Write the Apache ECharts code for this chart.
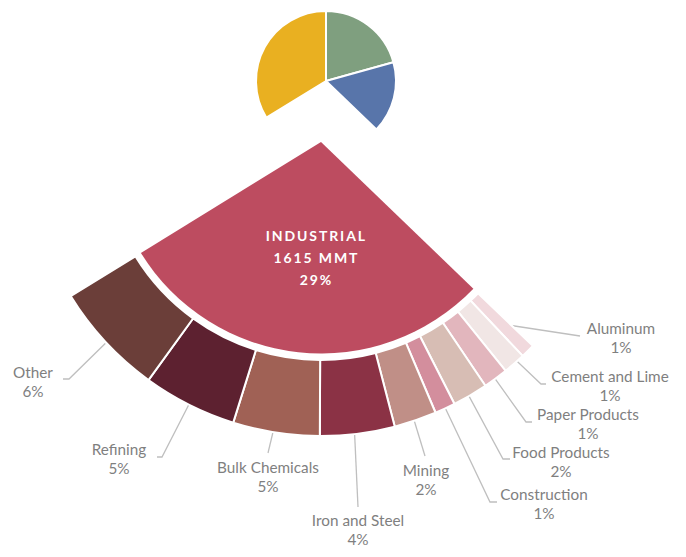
<!DOCTYPE html>
<html>
<head>
<meta charset="utf-8">
<script src="https://cdn.jsdelivr.net/npm/echarts@6/dist/echarts.min.js"></script>
<style>
  html, body { margin: 0; padding: 0; background: #ffffff; }
  #chart { width: 686px; height: 557px; }
  #chart text[fill="#fff"] { letter-spacing: 1.9px; }
</style>
</head>
<body>
<div id="chart"></div>
<script>
// End-use sectors, million metric tons of CO2, clockwise from 12 o'clock
const sectorNames = ['Residential', 'Commercial', 'Industrial', 'Transportation'];
const sectorMMT = [1150, 920, 1615, 1880];

// Breakdown of the industrial sector, million metric tons of CO2
const subsectorNames = ['Other', 'Refining', 'Bulk Chemicals', 'Iron and Steel', 'Mining',
  'Construction', 'Food Products', 'Paper Products', 'Cement and Lime', 'Aluminum'];
const subsectorMMT = [347, 287, 265, 228, 130, 63, 108, 76, 68, 43];

const sectorColors = ['#7f9f7f', '#5875aa', '#bd4c60', '#e9b021'];
const subsectorColors = ['#6b3e39', '#5d2130', '#a06155', '#8b3245', '#c08f87',
  '#d38e9d', '#d7bdb4', '#e2b6bd', '#f1e6e5', '#f1d9dd'];

// Callout placement per subsector: [text x, text y, bend x, bend y, tip x]
const calloutSpots = [
  [33, 381, 69, 379, 63],
  [119, 458, 162, 457, 157],
  [268, 476, 268, 453, 268],
  [358, 529, 358, 507, 358],
  [426, 479, 425, 456, 425],
  [544, 503, 490, 502, 497],
  [561, 461, 503, 459, 510],
  [588, 423, 526, 422, 532],
  [610, 385, 541, 384, 546],
  [621, 337, 580, 336, 580]
];

const INDUSTRIAL = 2;
const total = sectorMMT.reduce((a, b) => a + b, 0);
const pct = v => Math.round(v / total * 100);

// Exploded industrial wedge and its ring share one centre
const CX = 321, CY = 142;
const WEDGE_R = 211.5;
const RING_R = [218, 294];
const RING_MID = (RING_R[0] + RING_R[1]) / 2;

const hidden = {
  itemStyle: { color: 'transparent', borderWidth: 0 },
  label: { show: false },
  labelLine: { show: false }
};

// Small pie of all sectors; the industrial slice is left empty
const topData = sectorNames.map((name, i) => i === INDUSTRIAL
  ? Object.assign({ name, value: sectorMMT[i] }, hidden)
  : { name, value: sectorMMT[i], itemStyle: { color: sectorColors[i] } });

// Enlarged industrial wedge
const wedgeData = sectorNames.map((name, i) => i === INDUSTRIAL
  ? {
      name, value: sectorMMT[i],
      itemStyle: { color: sectorColors[i] },
      label: {
        show: true,
        position: 'inside',
        formatter: p => p.name.toUpperCase() + '\n' + p.value + ' MMT\n' + pct(p.value) + '%',
        color: '#fff',
        fontFamily: 'Lato, "Open Sans", sans-serif',
        fontWeight: 'bold',
        fontSize: 14,
        lineHeight: 22,
        align: 'center'
      }
    }
  : Object.assign({ name, value: sectorMMT[i] }, hidden));

// Ring of subsectors under the wedge, ordered clockwise (Aluminum first)
const ringData = [];
const ringSub = [];
sectorNames.forEach((name, i) => {
  if (i === INDUSTRIAL) {
    for (let k = subsectorNames.length - 1; k >= 0; k--) {
      ringData.push({ name: subsectorNames[k], value: subsectorMMT[k], itemStyle: { color: subsectorColors[k] } });
      ringSub.push(k);
    }
  } else {
    ringData.push(Object.assign({ name, value: sectorMMT[i] }, hidden));
    ringSub.push(null);
  }
});

// Point halfway across the ring at the middle angle of a subsector
function ringMidPoint(idx) {
  let before = 0;
  for (let j = 0; j < idx; j++) before += ringData[j].value;
  const frac = (before + ringData[idx].value / 2) / total;
  const ang = Math.PI / 2 - frac * Math.PI * 2;
  return [CX + RING_MID * Math.cos(ang), CY - RING_MID * Math.sin(ang)];
}

const chart = echarts.init(document.getElementById('chart'), null, { renderer: 'svg' });
chart.setOption({
  backgroundColor: '#ffffff',
  animation: false,
  series: [
    {
      type: 'pie',
      silent: true,
      center: [326, 81],
      radius: [0, 70],
      startAngle: 90,
      avoidLabelOverlap: false,
      itemStyle: { borderColor: '#ffffff', borderWidth: 2 },
      label: { show: false },
      labelLine: { show: false },
      data: topData
    },
    {
      type: 'pie',
      silent: true,
      center: [CX, CY],
      radius: [0, WEDGE_R],
      startAngle: 90,
      avoidLabelOverlap: false,
      labelLine: { show: false },
      labelLayout: { dx: 7, dy: 7 },
      data: wedgeData
    },
    {
      type: 'pie',
      silent: true,
      center: [CX, CY],
      radius: RING_R,
      startAngle: 90,
      avoidLabelOverlap: false,
      itemStyle: { borderColor: '#ffffff', borderWidth: 2 },
      label: {
        show: true,
        position: 'outside',
        formatter: p => p.name + '\n' + pct(p.value) + '%',
        color: '#7f7f7f',
        fontFamily: 'Lato, "Open Sans", sans-serif',
        fontSize: 15.3,
        lineHeight: 19,
        align: 'center'
      },
      labelLine: { show: true, lineStyle: { color: '#bfbfbf', width: 1.3 } },
      labelLayout: function (p) {
        const k = ringSub[p.dataIndex];
        if (k == null) return {};
        const s = calloutSpots[k];
        return {
          x: s[0], y: s[1],
          align: 'center', verticalAlign: 'middle',
          labelLinePoints: [ringMidPoint(p.dataIndex), [s[2], s[3]], [s[4], s[3]]]
        };
      },
      data: ringData
    }
  ]
});
</script>
</body>
</html>
